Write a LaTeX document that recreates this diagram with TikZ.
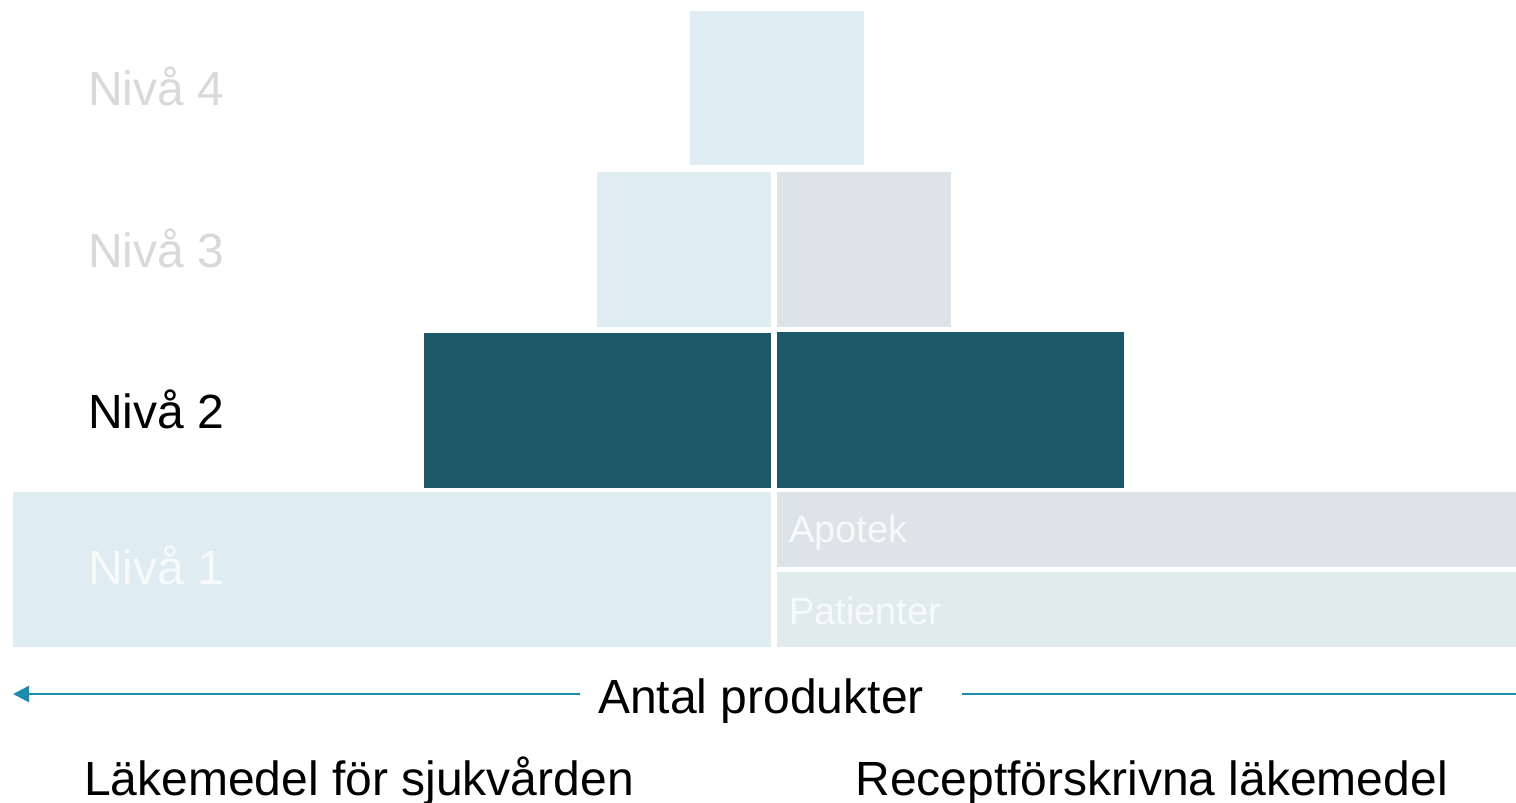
\documentclass[tikz,border=0pt]{standalone}
\usepackage{fontspec}
\setmainfont{Liberation Sans}
\usetikzlibrary{arrows.meta}
\definecolor{lblue}{HTML}{DFECF1}
\definecolor{lgrey}{HTML}{DCE4E7}
\definecolor{teal2}{HTML}{1B5968}
\definecolor{lgreen}{HTML}{DFECEB}
\definecolor{arrowc}{HTML}{1A8CB0}
\definecolor{gtext}{HTML}{D9D9D9}
\definecolor{wtext}{HTML}{F7FAFB}
\tikzset{
  blk/.style={draw=none, inner sep=0pt, outer sep=0pt, anchor=north west},
  lvl/.style={inner sep=0pt, anchor=base west, font=\fontsize{48}{56}\selectfont},
  big/.style={inner sep=0pt, font=\fontsize{48}{56}\selectfont},
  small/.style={inner sep=0pt, anchor=base west, font=\fontsize{38}{44}\selectfont, text=wtext},
}
\begin{document}
\begin{tikzpicture}[x=1pt,y=-1pt]
\useasboundingbox[fill=white] (0,0) rectangle (1516,803);
% level 4
\node[blk, fill=lblue, minimum width=174pt, minimum height=154pt] (b4) at (690,11) {};
% level 3
\node[blk, fill=lblue, minimum width=174pt, minimum height=155pt] (b3l) at (597,172) {};
\node[blk, fill=lgrey, minimum width=174pt, minimum height=155pt] (b3r) at (777,172) {};
% level 2
\node[blk, fill=teal2, minimum width=347pt, minimum height=155pt] (b2l) at (424,333) {};
\node[blk, fill=teal2, minimum width=347pt, minimum height=156pt] (b2r) at (777,332) {};
% level 1
\node[blk, fill=lblue, minimum width=758pt, minimum height=155pt] (b1l) at (13,492) {};
\node[blk, fill=lgrey, minimum width=739pt, minimum height=75pt] (apo) at (777,492) {};
\node[blk, fill=lgreen, minimum width=739pt, minimum height=75pt] (pat) at (777,572) {};
\node[small] (apot) at (789,542) {Apotek};
\node[small] (patt) at (789,624) {Patienter};
% level labels
\node[lvl, text=gtext] (n4) at (88,105) {Nivå 4};
\node[lvl, text=gtext] (n3) at (88,267) {Nivå 3};
\node[lvl, text=black] (n2) at (88,428) {Nivå 2};
\node[lvl, text=wtext] (n1) at (88,584) {Nivå 1};
% axis
\node[big, anchor=base] (ap) at (761,713) {Antal produkter};
\coordinate (le) at (13,694);
\coordinate (ls) at (580,694);
\coordinate (rs) at (962,694);
\coordinate (re) at (1516,694);
\draw[arrowc, line width=2.5pt, -{Triangle[length=16pt,width=16pt]}] (ls) -- (le);
\draw[arrowc, line width=2.5pt] (rs) -- (re);
% bottom labels
\node[big, anchor=base west] (lak) at (84,795) {Läkemedel för sjukvården};
\node[big, anchor=base east] (rec) at (1448,795) {Receptförskrivna läkemedel};
\end{tikzpicture}
\end{document}
